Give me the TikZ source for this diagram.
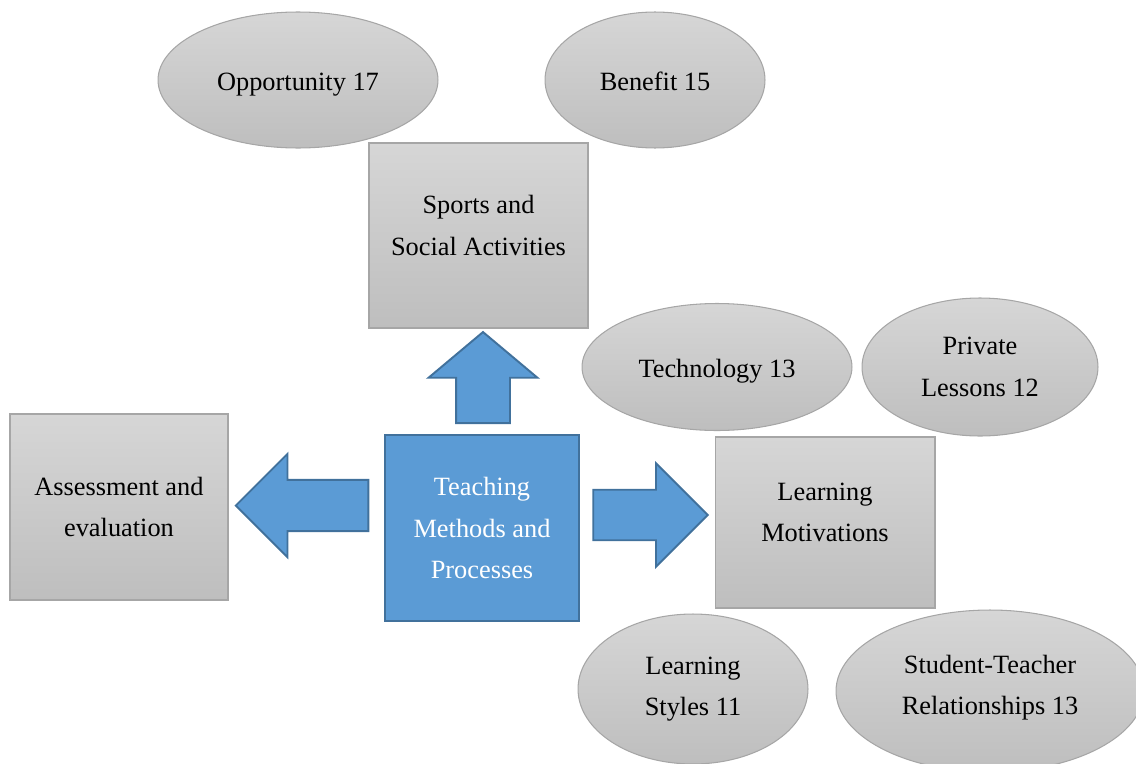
\documentclass[tikz,border=0pt]{standalone}
\usepackage{fontspec}
\setmainfont{Liberation Serif}
\usepackage{tikz}
\usetikzlibrary{shapes.geometric,shapes.arrows}

\definecolor{boxtop}{HTML}{D6D6D6}
\definecolor{boxbot}{HTML}{BEBEBE}
\definecolor{boxline}{HTML}{A6A6A6}
\definecolor{bluefill}{HTML}{5B9BD5}
\definecolor{blueline}{HTML}{41719C}

\begin{document}
\begin{tikzpicture}[x=0.02cm,y=-0.02cm,
        font=\fontsize{15pt}{23.5pt}\selectfont,
        every node/.style={align=center,inner sep=0pt}]
    \tikzstyle{graybox}=[rectangle,draw=boxline,line width=0.6pt,
        top color=boxtop,bottom color=boxbot,text=black]
    \tikzstyle{bubble}=[ellipse,draw=boxline,line width=0.6pt,
        top color=boxtop,bottom color=boxbot,text=black]
    \tikzstyle{oneline}=[text height=15pt,text depth=2.5pt]
    \tikzstyle{bluebox}=[rectangle,draw=blueline,line width=1.1pt,
        fill=bluefill,text=white]
    \tikzstyle{bigarrow}=[single arrow,draw=blueline,line width=1.1pt,
        fill=bluefill,anchor=tail,single arrow head indent=0pt]

    \clip (0,0) rectangle (1136,764);

    % top
    \node[bubble,oneline,minimum width=5.6cm,minimum height=2.72cm] (opp) at (298,80) {Opportunity 17};
    \node[bubble,oneline,minimum width=4.4cm,minimum height=2.72cm] (ben) at (655,80) {Benefit 15};
    \node[graybox,minimum width=4.38cm,minimum height=3.7cm,
        label={[yshift=0.2cm,align=center]center:Sports and\\Social Activities}] (sports) at (478.5,235.5) {};

    % centre and arrows
    \node[bluebox,minimum width=3.88cm,minimum height=3.72cm] (teach) at (482,528)
        {Teaching\\Methods and\\Processes};
    \node[bigarrow,shape border rotate=90,minimum height=1.82cm,inner xsep=0.52cm,inner ysep=0pt,
        single arrow head extend=0.55cm,single arrow tip angle=100] (up) at (483,424) {};
    \node[bigarrow,shape border rotate=180,minimum height=2.65cm,inner xsep=0pt,inner ysep=0.493cm,
        single arrow head extend=0.52cm,single arrow tip angle=90] (left) at (369.3,505.5) {};
    \node[bigarrow,minimum height=2.29cm,inner xsep=0pt,inner ysep=0.486cm,
        single arrow head extend=0.53cm,single arrow tip angle=90] (right) at (592.3,515) {};

    % sides
    \node[graybox,minimum width=4.36cm,minimum height=3.72cm] (assess) at (119,507)
        {Assessment and\\evaluation};
    \node[graybox,minimum width=4.4cm,minimum height=3.42cm,
        label={[yshift=0.2cm,align=center]center:Learning\\Motivations}] (motiv) at (825,522.5) {};

    % right bubbles
    \node[bubble,oneline,minimum width=5.4cm,minimum height=2.54cm] (tech) at (717,367) {Technology 13};
    \node[bubble,minimum width=4.72cm,minimum height=2.76cm] (priv) at (980,367) {Private\\Lessons 12};
    \node[bubble,minimum width=4.6cm,minimum height=3.0cm] (styles) at (693,689) {Learning\\Styles 11};
    \node[bubble,minimum width=6.16cm,minimum height=3.24cm,
        label={[yshift=0.06cm,align=center]center:Student-Teacher\\Relationships 13}] (rel) at (990,691) {};
\end{tikzpicture}
\end{document}
